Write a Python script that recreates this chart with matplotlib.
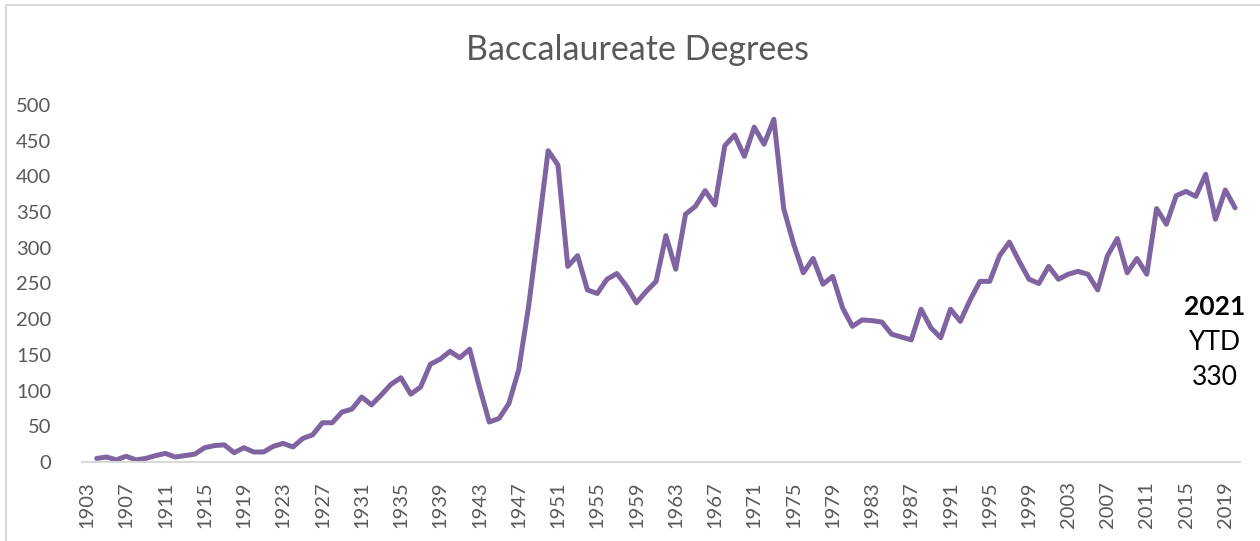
import matplotlib.pyplot as plt
import matplotlib.lines as mlines

plt.rcParams['font.family'] = ['Lato', 'DejaVu Sans']

# Data (1903 category is empty in the source chart)
years = list(range(1904, 2021))
degrees = [5, 7, 3, 8, 3, 5, 9, 12, 7, 9, 11, 20, 23, 24, 13, 20, 14, 14, 22, 26,
           21, 33, 38, 55, 55, 70, 74, 91, 80, 94, 109, 118, 95, 105, 137, 144, 155, 146,
           158, 105, 56, 61, 82, 129, 217, 325, 436, 416, 274, 289, 241, 236, 256, 264,
           246, 223, 239, 253, 317, 270, 347, 358, 380, 360, 443, 458, 428, 469, 445, 480,
           355, 306, 265, 285, 249, 260, 216, 190, 199, 198, 196, 179, 175, 171, 214, 188,
           174, 214, 197, 227, 253, 253, 289, 308, 281, 256, 250, 274, 256, 263, 267, 263,
           241, 289, 313, 265, 285, 263, 355, 333, 373, 379, 372, 403, 340, 381, 356]
tick_years = list(range(1903, 2020, 4))
y_ticks = [0, 50, 100, 150, 200, 250, 300, 350, 400, 450, 500]

fig = plt.figure(figsize=(12.6, 5.41), dpi=100)
ax = fig.add_axes([82 / 1260, 79 / 541, 1158 / 1260, 357 / 541])

# chart area border (only top and left edges are visible in the crop)
fig.lines.append(mlines.Line2D([6 / 1260, 6 / 1260, 1], [0, 1 - 5 / 541, 1 - 5 / 541],
                               transform=fig.transFigure, color='#D9D9D9', linewidth=1.5))

ax.plot(years, degrees, color='#8064A2', linewidth=3.6, solid_joinstyle='round',
        solid_capstyle='round')

ax.set_xlim(1902.5, 2020.5)
ax.set_ylim(0, 500)
ax.set_xticks(tick_years)
ax.set_xticklabels([str(y) for y in tick_years], rotation=90, fontsize=14.5, color='#595959')
ax.set_yticks(y_ticks)
ax.set_yticklabels([str(v) for v in y_ticks], fontsize=14.5, color='#595959')
ax.tick_params(axis='both', length=0)
ax.tick_params(axis='y', pad=22)
ax.tick_params(axis='x', pad=14)

for side in ['top', 'right', 'left']:
    ax.spines[side].set_visible(False)
ax.spines['bottom'].set_color('#D9D9D9')
ax.spines['bottom'].set_linewidth(1.5)

fig.text(637 / 1260, 1 - 50 / 541, 'Baccalaureate Degrees', ha='center', va='center',
         fontsize=24.5, color='#595959')

# year-to-date annotation
ax.text(2017.9, 217, '2021', ha='center', va='center', fontsize=19, fontweight='bold', color='black')
ax.text(2017.9, 168, 'YTD', ha='center', va='center', fontsize=19, color='black')
ax.text(2017.9, 119, '330', ha='center', va='center', fontsize=19, color='black')

fig.savefig('out.png', dpi=100)
